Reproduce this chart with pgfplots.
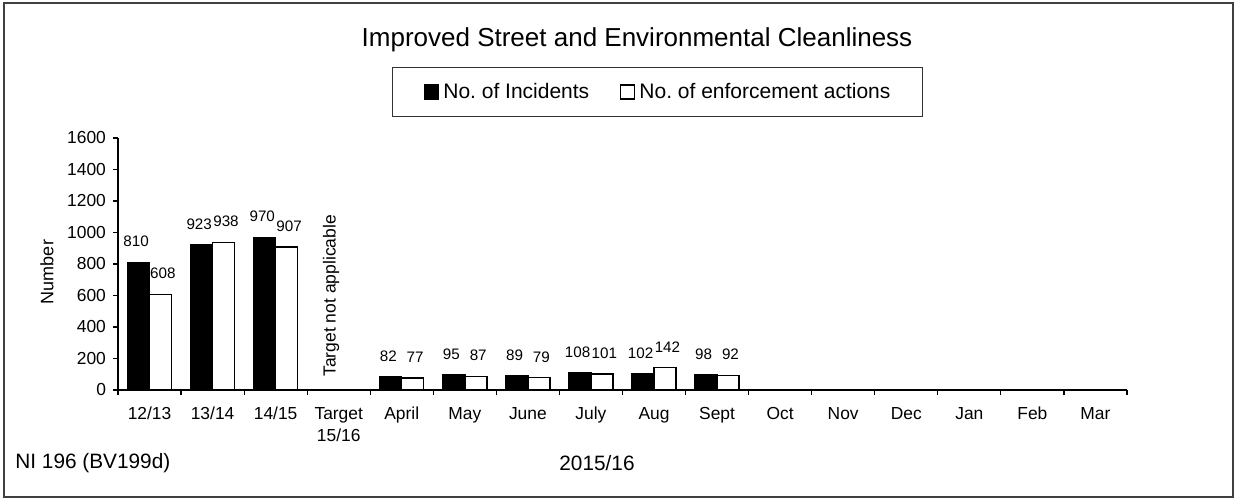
\documentclass[border=0pt]{standalone}
\usepackage{pgfplots}
\pgfplotsset{compat=1.18}
\usepackage{fontspec}
\setmainfont{Liberation Sans}
\pgfplotsset{
    sqlegend/.style={legend image code/.code={\draw[##1, line width=0.6pt] (0pt,-3.5pt) rectangle (7pt,3.5pt);}}
}

\begin{document}
\begin{tikzpicture}[x=1pt,y=1pt]
\useasboundingbox (-59,-57) rectangle (560.5,195);
\draw[line width=0.7pt, black!75] (-57,-53.5) rectangle (557.5,193.5);
\node[font=\fontsize{13}{15}\selectfont] at (259.5,175) {Improved Street and Environmental Cleanliness};
\node[font=\fontsize{9}{11}\selectfont, rotate=90] at (-35.5,59) {Number};
\node[font=\fontsize{10.4}{12}\selectfont, anchor=west, inner sep=0pt] at (-51.5,-36.5) {NI 196 (BV199d)};
\node[font=\fontsize{10.4}{12}\selectfont] at (239.5,-36.5) {2015/16};
\begin{axis}[
    at={(0pt,0pt)}, anchor=south west,
    scale only axis,
    width=504.5pt, height=126pt,
    xmin=-0.5, xmax=15.5,
    ymin=0, ymax=1600,
    ytick={0,200,...,1600},
    xtick={0,...,15},
    xticklabels={12/13,13/14,14/15,{Target\\15/16},April,May,June,July,Aug,Sept,Oct,Nov,Dec,Jan,Feb,Mar},
    minor xtick={-0.5,0.5,...,15.5},
    major x tick style={draw=none},
    axis lines*=left,
    axis line style={line width=0.6pt},
    tick style={line width=0.6pt, black},
    tick align=outside,
    major tick length=2.5pt, minor tick length=2.5pt,
    xticklabel style={font=\fontsize{8.7}{11}\selectfont, align=center, yshift=-2.5pt},
    yticklabel style={font=\fontsize{8.7}{11}\selectfont},
    /pgf/number format/assume math mode=true,
    /pgf/number format/1000 sep={},
    ybar=0pt, bar width=11pt,
    nodes near coords,
    every node near coord/.append style={font=\fontsize{7.6}{9}\selectfont, yshift=4pt, black},
    legend columns=2,
    legend style={at={(0.2716,1.2817)}, anchor=north west, draw=black!80, line width=0.5pt,
        font=\fontsize{10.5}{12}\selectfont, inner xsep=15.8pt, inner ysep=7.7pt,
        nodes={inner sep=0pt},
        /tikz/every odd column/.append style={column sep=2pt},
        /tikz/every even column/.append style={column sep=15.5pt}},
]
\addplot[fill=black, draw=black, line width=0.7pt, sqlegend,
    every node near coord/.append style={xshift=-1.2pt}]
coordinates {
    (0,810) (1,923) (2,970) (4,82) (5,95) (6,89) (7,108) (8,102) (9,98)
};
\addplot[fill=white, draw=black, line width=0.7pt, sqlegend,
    every node near coord/.append style={xshift=1.2pt}]
coordinates {
    (0,608) (1,938) (2,907) (4,77) (5,87) (6,79) (7,101) (8,142) (9,92)
};
\legend{No.\ of Incidents, No.\ of enforcement actions}
\node[rotate=90, anchor=west, inner sep=0pt, font=\fontsize{8.75}{10}\selectfont]
    at (axis cs:2.88,82.5) {Target not applicable};
\end{axis}
\end{tikzpicture}
\end{document}
